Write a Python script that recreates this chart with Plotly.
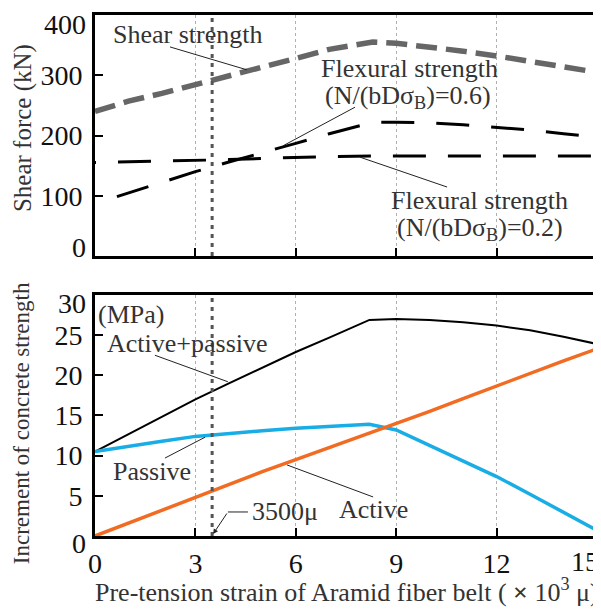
import plotly.graph_objects as go

# ---------------- data ----------------
strain = [0, 1, 2, 3, 4, 5, 6, 7, 8.3, 9, 10, 11, 12, 13, 14, 15]
shear_strength = [240, 257, 270, 284, 299, 313, 328, 343, 355, 353, 347, 340, 332, 323, 313, 305]
flex_06 = [87, 105, 123, 140, 156, 171, 187, 203, 222, 222, 221, 218, 214, 209, 203, 197]
flex_02 = [155, 156, 157, 158.5, 160, 162, 164, 165, 166, 166, 166, 166, 166, 166, 166, 166]

strain_b = [0, 1, 2, 3, 4, 5, 6, 7, 8.2, 9, 10, 11, 12, 13, 14, 15]
active_passive = [10.5, 12.7, 14.9, 17.0, 19.0, 21.0, 22.9, 24.7, 26.9, 27.0, 26.9, 26.6, 26.2, 25.6, 24.8, 23.9]
passive = [10.5, 11.2, 11.8, 12.4, 12.8, 13.1, 13.4, 13.6, 13.9, 13.2, 11.3, 9.4, 7.4, 5.2, 3.0, 0.7]
active = [0, 1.6, 3.3, 4.9, 6.4, 8.0, 9.5, 11.0, 12.7, 13.9, 15.5, 17.1, 18.7, 20.2, 21.8, 23.3]

x_ticks = [0, 3, 6, 9, 12, 15]
y_ticks_top = [0, 100, 200, 300, 400]
y_ticks_bot = [0, 5, 10, 15, 20, 25, 30]
pretension_mark = 3.5

FONT = "Liberation Serif"
TXT = "#333333"
TICK = "#111111"
TICKSIZE = 28
LBLSIZE = 26

fig = go.Figure()

flex_dash = "1px,22px," + ",".join(["33px,22px"] * 14)
flex_dash2 = "0px,23px," + ",".join(["33px,22px"] * 14)

fig.add_trace(go.Scatter(x=strain, y=shear_strength, xaxis="x", yaxis="y", mode="lines",
                         line=dict(color="#666666", width=5.5, dash="21px,9px")))
fig.add_trace(go.Scatter(x=strain, y=flex_06, xaxis="x", yaxis="y", mode="lines",
                         line=dict(color="#000000", width=3, dash=flex_dash2)))
fig.add_trace(go.Scatter(x=strain, y=flex_02, xaxis="x", yaxis="y", mode="lines",
                         line=dict(color="#000000", width=3, dash=flex_dash)))

fig.add_trace(go.Scatter(x=strain_b, y=active_passive, xaxis="x2", yaxis="y2", mode="lines",
                         line=dict(color="#000000", width=2)))
fig.add_trace(go.Scatter(x=strain_b, y=passive, xaxis="x2", yaxis="y2", mode="lines",
                         line=dict(color="#19ADE6", width=3.5)))
fig.add_trace(go.Scatter(x=strain_b, y=active, xaxis="x2", yaxis="y2", mode="lines",
                         line=dict(color="#F26B22", width=3.5)))

axis_common = dict(showline=True, linecolor="black", linewidth=3, mirror=True,
                   ticks="inside", ticklen=8, tickwidth=1.5, tickcolor="black",
                   zeroline=False, automargin=False, ticklabeloverflow="allow",
                   tickfont=dict(family=FONT, size=TICKSIZE, color=TICK))
xgrid = dict(showgrid=True, gridcolor="#b0b0b0", gridwidth=1, griddash="3px,3px")

# inner ticks carry axis labels; the edge values get nudged labels below
x_inner = x_ticks[:-1]
yt_inner = y_ticks_top[1:-1]
yb_inner = y_ticks_bot[1:-1]

# page has an 8px body margin, so the figure is 8px smaller than the window
fig.update_layout(
    template="none",
    width=593, height=604,
    margin=dict(l=87, r=4, t=7, b=76, autoexpand=False),
    plot_bgcolor="white", paper_bgcolor="white", showlegend=False,
    font=dict(family=FONT, color=TXT),
    xaxis=dict(domain=[0, 1], anchor="y", range=[0, 15], tickvals=x_inner,
               showticklabels=False, **xgrid, **axis_common),
    yaxis=dict(domain=[0.5374, 1], anchor="x", range=[0, 400], tickvals=yt_inner,
               showgrid=False, ticklabelstandoff=4, **axis_common),
    xaxis2=dict(domain=[0, 1], anchor="y2", range=[0, 15], tickvals=x_inner,
                **xgrid, **axis_common),
    yaxis2=dict(domain=[0, 0.4626], anchor="x2", range=[0, 30], tickvals=yb_inner,
                showgrid=False, ticklabelstandoff=4, **axis_common),
)

shapes = []
for xr, yr in (("x", "y domain"), ("x2", "y2 domain")):
    shapes.append(dict(type="line", xref=xr, yref=yr, x0=pretension_mark, x1=pretension_mark,
                       y0=0, y1=1, line=dict(color="#555555", width=3, dash="4px,5px"), layer="above"))

def leader(xr, yr, x0, y0, x1, y1):
    shapes.append(dict(type="line", xref=xr, yref=yr, x0=x0, y0=y0, x1=x1, y1=y1,
                       line=dict(color="#222222", width=1), layer="above"))

leader("x", "y", 2.24, 347, 4.54, 309)
leader("x", "y", 7.77, 247, 5.62, 183)
leader("x", "y", 10.52, 114.5, 7.92, 164)
leader("x2", "y2", 1.79, 22.5, 3.97, 19.2)
leader("x2", "y2", 2.09, 9.7, 3.29, 12.3)
leader("x2", "y2", 5.74, 8.84, 8.31, 4.86)
leader("x2", "y2", 3.97, 2.99, 4.57, 2.99)
fig.update_layout(shapes=shapes)

anns = []
def label(xr, yr, x, y, text, size=LBLSIZE, xanchor="center"):
    anns.append(dict(xref=xr, yref=yr, x=x, y=y, text=text, showarrow=False,
                     xanchor=xanchor, yanchor="middle",
                     font=dict(family=FONT, size=size, color=TXT)))

label("x", "y", 2.75, 367, "Shear strength")
label("x", "y", 9.41, 312, "Flexural strength")
label("x", "y", 9.35, 264, "(N/(bDσ<sub>B</sub>)=0.6)")
label("x", "y", 11.5, 92, "Flexural strength")
label("x", "y", 11.5, 45, "(N/(bDσ<sub>B</sub>)=0.2)")

label("x2", "y2", 1.08, 27.6, "(MPa)")
label("x2", "y2", 2.76, 24.0, "Active+passive")
label("x2", "y2", 1.70, 7.97, "Passive")
label("x2", "y2", 8.31, 3.24, "Active")
label("x2", "y2", 4.63, 2.99, "3500μ", xanchor="left")

anns.append(dict(xref="x2", yref="y2", x=3.53, y=0.25, ax=3.97, ay=2.99,
                 axref="x2", ayref="y2", text="", showarrow=True,
                 arrowhead=2, arrowsize=1, arrowwidth=1, arrowcolor="#222222"))

# edge tick labels nudged inside the frame as in the original
def edge_tick(yr, val, shift):
    anns.append(dict(xref="paper", yref=yr, x=-0.014, y=val, text=str(val), showarrow=False,
                     xanchor="right", yanchor="middle", yshift=shift,
                     font=dict(family=FONT, size=TICKSIZE, color=TICK)))

edge_tick("y", y_ticks_top[-1], -9)
edge_tick("y", y_ticks_top[0], 9)
edge_tick("y2", y_ticks_bot[-1], -9)
edge_tick("y2", y_ticks_bot[0], -8)
anns.append(dict(xref="paper", yref="paper", x=1.008, y=-0.048, text=str(x_ticks[-1]),
                 showarrow=False, xanchor="right", yanchor="middle",
                 font=dict(family=FONT, size=TICKSIZE, color=TICK)))

# axis titles
anns.append(dict(xref="paper", yref="paper", x=-0.1434, y=0.783, text="Shear force (kN)",
                 textangle=-90, showarrow=False, xanchor="center", yanchor="middle",
                 font=dict(family=FONT, size=25, color=TXT)))
anns.append(dict(xref="paper", yref="paper", x=-0.145, y=0.217, text="Increment of concrete strength",
                 textangle=-90, showarrow=False, xanchor="center", yanchor="middle",
                 font=dict(family=FONT, size=23, color=TXT)))
anns.append(dict(xref="paper", yref="paper", x=0.502, y=-0.104,
                 text="Pre-tension strain of Aramid fiber belt ( <b>×</b> 10<sup>3</sup> μ)",
                 showarrow=False, xanchor="center", yanchor="middle",
                 font=dict(family=FONT, size=26, color=TXT)))
fig.update_layout(annotations=anns)

fig.write_html("out.html")
